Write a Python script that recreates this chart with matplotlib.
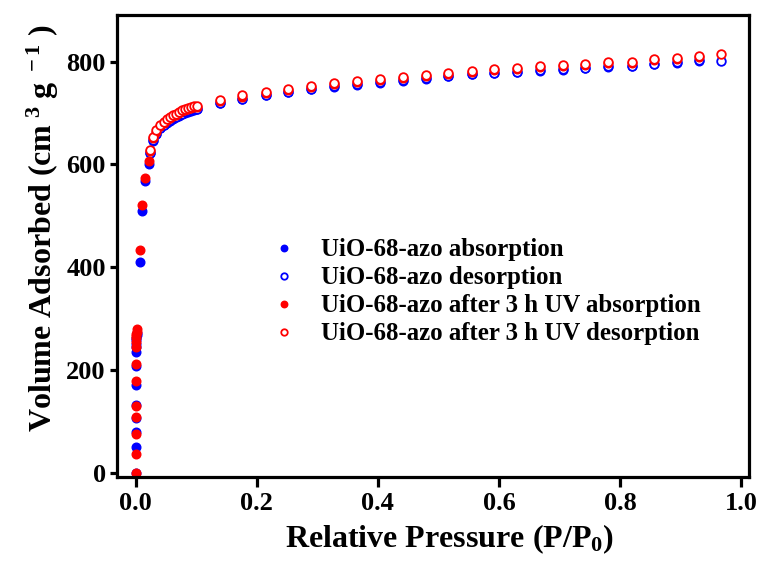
import matplotlib
matplotlib.use("Agg")
import matplotlib.pyplot as plt

plt.rcParams["font.family"] = ["Liberation Serif", "DejaVu Serif"]
plt.rcParams["font.weight"] = "bold"
plt.rcParams["mathtext.fontset"] = "custom"
plt.rcParams["mathtext.rm"] = "Liberation Serif:bold"
plt.rcParams["mathtext.it"] = "Liberation Serif:bold"
plt.rcParams["mathtext.bf"] = "Liberation Serif:bold"

# N2 isotherm, low-pressure adsorption branch (P/P0 ~ 0)
p_low = [0.0002, 0.0003, 0.0004, 0.0005, 0.0006, 0.0007, 0.0008, 0.0009,
         0.0010, 0.0011, 0.0012, 0.0013, 0.0014, 0.0015]
blue_low = [0, 51, 80, 108, 132, 171, 208, 236, 245, 252, 258, 263, 268, 272]
red_low = [0, 37, 76, 110, 130, 179, 212, 246, 255, 262, 267, 271, 275, 281]

# micropore filling region
p_knee = [0.0077, 0.011, 0.015, 0.0215]
blue_knee = [410, 510, 568, 600]
red_knee = [433, 521, 573, 607]

# plateau, shared pressure points
p_plat = [0.024, 0.029, 0.034, 0.041, 0.046, 0.051, 0.056, 0.061, 0.066,
          0.071, 0.076, 0.081, 0.086, 0.091, 0.096, 0.102, 0.139, 0.176,
          0.215, 0.252, 0.290, 0.327, 0.366, 0.403, 0.441, 0.479, 0.516,
          0.555, 0.592, 0.629, 0.668, 0.705, 0.742, 0.780, 0.819, 0.856,
          0.894, 0.931, 0.967]
red_des = [629, 653, 666, 677, 683, 688, 692, 696, 699, 702, 705, 707, 709,
           711, 713, 714, 726, 734, 741, 747, 753, 758, 762, 766, 770, 774,
           778, 782, 786, 788, 791, 793, 796, 799, 800, 804, 807, 810, 814]
blue_des = [623, 647, 660, 671, 677, 682, 686, 690, 693, 696, 699, 701, 703,
            705, 707, 708, 720, 728, 735, 741, 747, 752, 756, 760, 764, 768,
            772, 776, 778, 780, 783, 785, 788, 791, 792, 796, 799, 802, 801]
red_ads_plat = [627, 651, 664, 675, 681, 686, 690, 694, 697, 700, 703, 705,
                707, 709, 711, 712, 724, 732, 739, 745, 751, 756, 760, 764,
                768, 772, 776, 780, 784, 786, 789, 791, 794, 797, 798, 802,
                805, 808]
blue_ads_plat = [622, 646, 659, 670, 676, 681, 685, 689, 692, 695, 698, 700,
                 702, 704, 706, 707, 719, 727, 734, 740, 746, 751, 755, 759,
                 763, 767, 771, 775, 777, 779, 782, 784, 787, 790, 791, 795,
                 798, 801]

labels = ["UiO-68-azo absorption",
          "UiO-68-azo desorption",
          "UiO-68-azo after 3 h UV absorption",
          "UiO-68-azo after 3 h UV desorption"]

blue_ads_p = p_low + p_knee + p_plat[:len(blue_ads_plat)]
blue_ads_v = blue_low + blue_knee + blue_ads_plat
red_ads_p = p_low + p_knee + p_plat[:len(red_ads_plat)]
red_ads_v = red_low + red_knee + red_ads_plat

fig = plt.figure(figsize=(7.69, 5.63), dpi=100)
ax = fig.add_axes([0.152, 0.153, 0.822, 0.820])

ms = 6.2
ax.plot(blue_ads_p, blue_ads_v, "o", color="#0000ff", ms=ms, mec="#0000ff",
        label=labels[0], ls="none")
ax.plot(p_plat, blue_des, "o", mfc="white", mec="#0000ff", mew=1.3, ms=ms,
        label=labels[1], ls="none")
ax.plot(red_ads_p, red_ads_v, "o", color="#ff0000", ms=ms, mec="#ff0000",
        label=labels[2], ls="none")
ax.plot(p_plat, red_des, "o", mfc="white", mec="#ff0000", mew=1.3, ms=ms,
        label=labels[3], ls="none")

ax.set_xlim(-0.031, 1.013)
ax.set_ylim(-7, 890)
ax.set_xticks([0.0, 0.2, 0.4, 0.6, 0.8, 1.0])
ax.set_xticklabels(["0.0", "0.2", "0.4", "0.6", "0.8", "1.0"])
ax.set_yticks([0, 200, 400, 600, 800])

for s in ax.spines.values():
    s.set_linewidth(2.3)
ax.tick_params(direction="out", width=2.3, labelsize=19,
               top=False, right=False)
ax.tick_params(axis="x", length=7, pad=4)
ax.tick_params(axis="y", length=5, pad=3)
for lab in ax.get_xticklabels() + ax.get_yticklabels():
    lab.set_fontweight("bold")

ax.set_xlabel("Relative Pressure (P/P$_0$)", fontsize=23, fontweight="bold")
ax.set_ylabel(r"Volume Adsorbed (cm$^{\ 3}$ g$^{\ -1}$ )", fontsize=23,
              fontweight="bold")
ax.xaxis.set_label_coords(0.527, -0.098, transform=ax.transAxes)
ax.yaxis.set_label_coords(-0.088, 0.54, transform=ax.transAxes)

leg = ax.legend(loc="upper left", bbox_to_anchor=(0.205, 0.565), frameon=False,
                prop={"size": 17.9, "weight": "bold"}, markerscale=0.75,
                handletextpad=0.9, labelspacing=0.2, handlelength=1.2,
                borderpad=0.4)

fig.savefig("out.png", dpi=100)
